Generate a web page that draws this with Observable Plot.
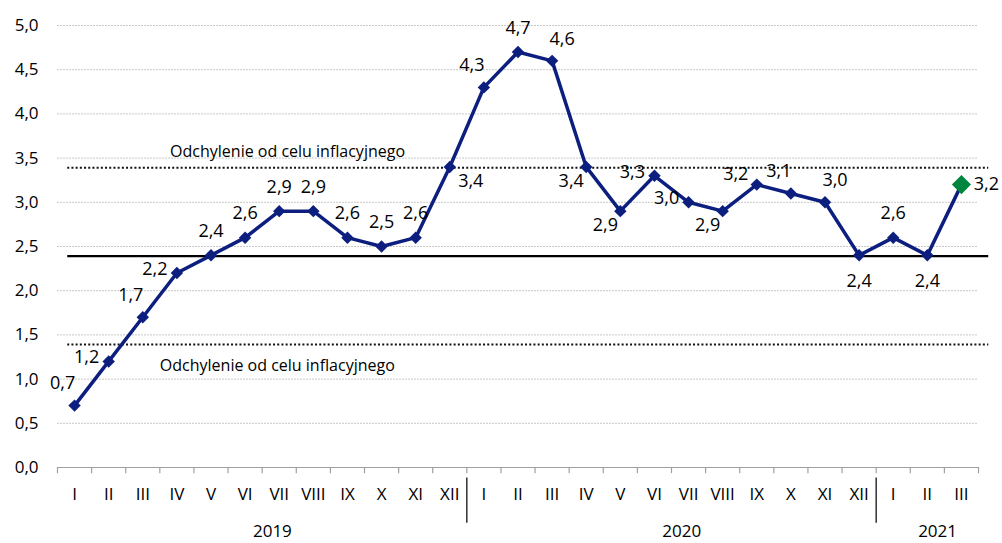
<!DOCTYPE html>
<html>
<head>
<meta charset="utf-8">
<script src="https://cdn.jsdelivr.net/npm/d3@7"></script>
<script src="https://cdn.jsdelivr.net/npm/@observablehq/plot@0.6"></script>
<style>
  html, body { margin: 0; padding: 0; background: #fff; }
  #chart svg { display: block; }
</style>
</head>
<body>
<div id="chart"></div>
<script>
const months = ["I","II","III","IV","V","VI","VII","VIII","IX","X","XI","XII",
                "I","II","III","IV","V","VI","VII","VIII","IX","X","XI","XII",
                "I","II","III"];
const values = [0.7,1.2,1.7,2.2,2.4,2.6,2.9,2.9,2.6,2.5,2.6,3.4,
                4.3,4.7,4.6,3.4,2.9,3.3,3.0,2.9,3.2,3.1,3.0,2.4,
                2.6,2.4,3.2];
const labelPlacement = ["ul","l","ul","l","u","u","u","u","u","u","u","dr",
                        "ul","u","ur","dl","dl","l","l","dl","lu","ul","ur","d",
                        "u","d","r"];
const years = ["2019","2020","2021"];
const yearStart = [0, 12, 24];
const yearEnd = [12, 24, 27];
const target = 2.39;
const bandLow = 1.39;
const bandHigh = 3.39;
const bandLabel = "Odchylenie od celu inflacyjnego";
const yTicks = [0,0.5,1,1.5,2,2.5,3,3.5,4,4.5,5];

const fmt = v => v.toFixed(1).replace(".", ",");
const data = values.map((v, i) => ({i, x: i + 0.5, v, month: months[i], pos: labelPlacement[i], last: i === values.length - 1}));
const offsets = {u:[0,-24], d:[0,26], l:[-22,-4], lu:[-21,-10], r:[25,0], ul:[-12,-22], ur:[10,-22], dl:[-15,14], dr:[21,14]};
const navy = "#0c1f7f";
const green = "#00853f";
const font = "'Open Sans', 'Noto Sans', sans-serif";

const labelMarks = Object.entries(offsets).map(([k, [dx, dy]]) =>
  Plot.text(data.filter(d => d.pos === k), {x: "x", y: "v", text: d => fmt(d.v), dx, dy, fontSize: 18, fill: "#000"})
);

const chart = Plot.plot({
  width: 1002,
  height: 543,
  marginLeft: 57,
  marginRight: 24,
  marginTop: 25,
  marginBottom: 76,
  style: {fontFamily: font, background: "#fff", overflow: "visible"},
  x: {type: "linear", domain: [0, 27], axis: null},
  y: {domain: [0, 5], axis: null},
  marks: [
    Plot.axisY({ticks: yTicks, tickFormat: fmt, tickSize: 0, tickPadding: 19, label: null, fontSize: 17, fill: "#000"}),
    Plot.ruleY(yTicks.filter(t => t > 0), {x1: 0, x2: 27, stroke: "#c8c8c8", strokeWidth: 1, strokeDasharray: "2,1"}),
    // x axis line and ticks
    Plot.ruleY([0], {x1: 0, x2: 27, stroke: "#a0a0a0", strokeWidth: 1.2}),
    Plot.ruleX(d3.range(0, 28), {x: d => d, y1: 0, y2: -0.07, stroke: "#a0a0a0", strokeWidth: 1.2}),
    // year separators
    Plot.ruleX([12, 24], {y1: -0.12, y2: -0.63, stroke: "#111", strokeWidth: 1.3}),
    // month labels
    Plot.text(data, {x: "x", y: 0, text: "month", dy: 27, fontSize: 17, fill: "#000"}),
    // year labels
    Plot.text(years, {x: (d, i) => (yearStart[i] + yearEnd[i]) / 2 + 0.3, y: 0, text: d => d, dy: 64, fontSize: 17, fill: "#000"}),
    // reference lines
    Plot.ruleY([bandHigh, bandLow], {x1: 0.3, x2: 27.3, stroke: "#111", strokeWidth: 2, strokeDasharray: "2,2.2"}),
    Plot.ruleY([target], {x1: 0.3, x2: 27.3, stroke: "#000", strokeWidth: 2.2}),
    Plot.text([bandHigh], {x: 3.3, y: d => d, text: () => bandLabel, textAnchor: "start", dy: -16, fontSize: 16, fill: "#000"}),
    Plot.text([bandLow], {x: 3.0, y: d => d, text: () => bandLabel, textAnchor: "start", dy: 21, fontSize: 16, fill: "#000"}),
    // series
    Plot.line(data, {x: "x", y: "v", stroke: navy, strokeWidth: 3.5}),
    Plot.dot(data.filter(d => !d.last), {x: "x", y: "v", symbol: "diamond2", r: 5.6, fill: navy, stroke: null}),
    Plot.dot(data.filter(d => d.last), {x: "x", y: "v", symbol: "diamond2", r: 8.6, fill: green, stroke: null}),
    ...labelMarks
  ]
});
document.getElementById("chart").appendChild(chart);
</script>
</body>
</html>
